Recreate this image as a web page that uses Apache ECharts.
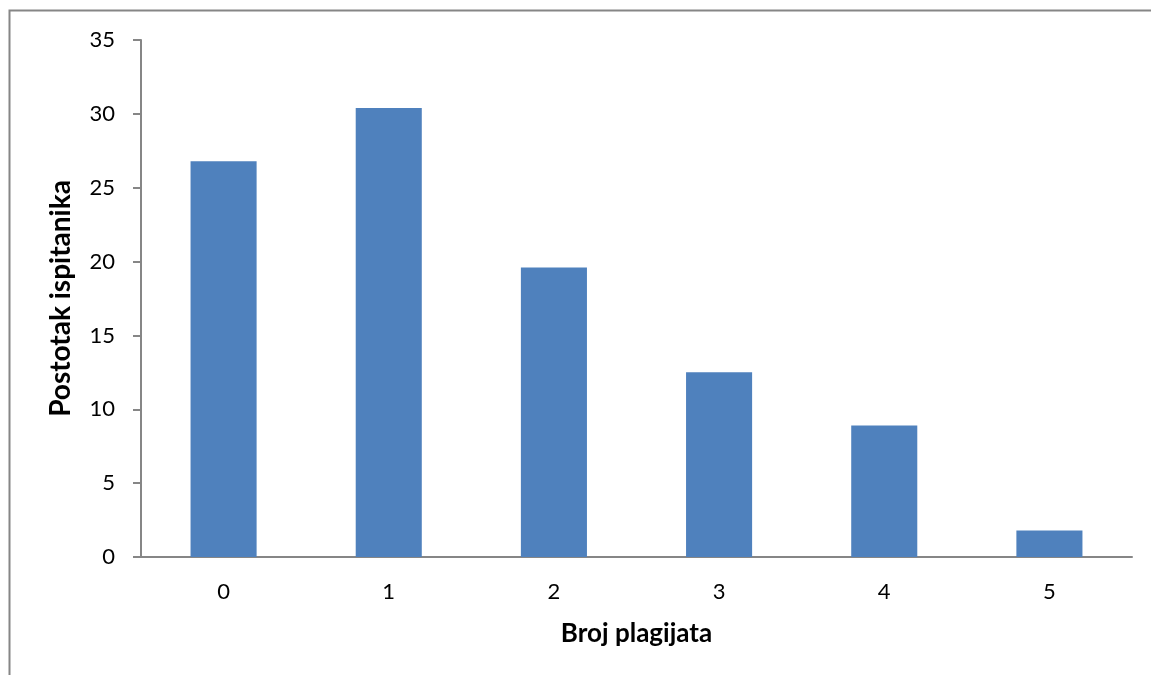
<!DOCTYPE html>
<html>
<head>
<meta charset="utf-8">
<script src="https://cdn.jsdelivr.net/npm/echarts@6/dist/echarts.min.js"></script>
<style>
html,body{margin:0;padding:0;background:#fff;}
#chart{width:1151px;height:675px;}
</style>
</head>
<body>
<div id="chart"></div>
<script>
const categories = ['0', '1', '2', '3', '4', '5'];
const values = [26.8, 30.4, 19.6, 12.5, 8.9, 1.8];
const yTitle = 'Postotak ispitanika';
const xTitle = 'Broj plagijata';

const chart = echarts.init(document.getElementById('chart'));
const font = 'Lato, "Open Sans", sans-serif';
chart.setOption({
  animation: false,
  graphic: [{
    type: 'rect',
    shape: {x: 9.5, y: 10.5, width: 1300, height: 800},
    style: {fill: 'none', stroke: '#868686', lineWidth: 2},
    silent: true
  }],
  grid: {left: 141, right: 19, top: 40, bottom: 118},
  xAxis: {
    type: 'category',
    data: categories,
    name: xTitle,
    nameLocation: 'middle',
    nameGap: 64,
    nameTextStyle: {fontFamily: font, fontWeight: 'bold', fontSize: 26, color: '#000'},
    axisLine: {lineStyle: {color: '#868686', width: 2}},
    axisTick: {show: false},
    axisLabel: {fontFamily: font, fontSize: 22, color: '#000', margin: 24}
  },
  yAxis: {
    type: 'value',
    min: 0, max: 35, interval: 5,
    name: yTitle,
    nameLocation: 'middle',
    nameGap: 66,
    nameTextStyle: {fontFamily: font, fontWeight: 'bold', fontSize: 28, color: '#000'},
    axisLine: {show: true, lineStyle: {color: '#868686', width: 2}},
    axisTick: {show: true, length: 8, lineStyle: {color: '#868686', width: 2}},
    splitLine: {show: false},
    axisLabel: {fontFamily: font, fontSize: 22, color: '#000', margin: 26}
  },
  series: [{
    type: 'bar',
    data: values,
    barWidth: '40%',
    itemStyle: {color: '#4F81BD'}
  }]
});
</script>
</body>
</html>
